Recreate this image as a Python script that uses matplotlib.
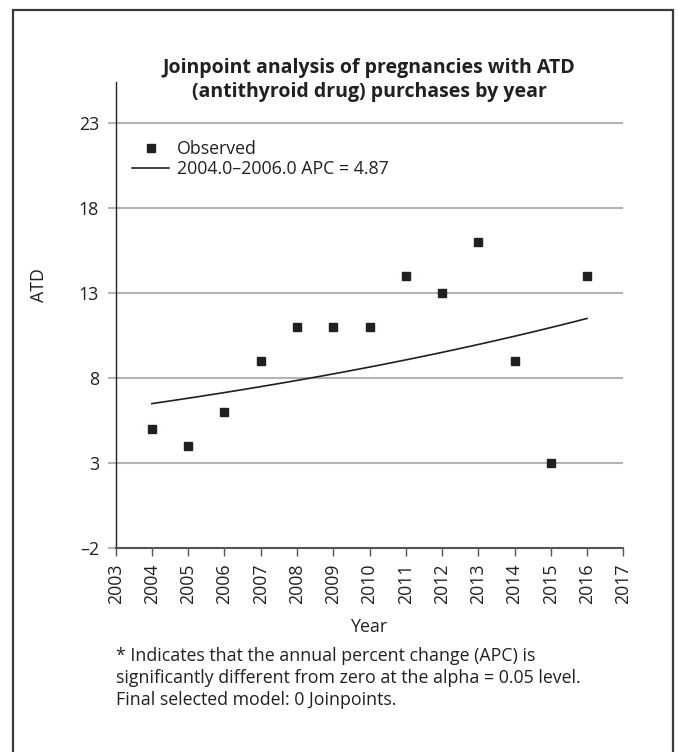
import numpy as np
import matplotlib
matplotlib.use("Agg")
import matplotlib.pyplot as plt
from matplotlib.lines import Line2D
from matplotlib.patches import Rectangle

plt.rcParams['font.family'] = ['Open Sans', 'DejaVu Sans']

# observed counts per year
years = [2004, 2005, 2006, 2007, 2008, 2009, 2010, 2011, 2012, 2013, 2014, 2015, 2016]
atd = [5, 4, 6, 9, 11, 11, 11, 14, 13, 16, 9, 3, 14]

# fitted segment: value at start year and annual percent change
seg_start, seg_end = 2004, 2016
seg_base = 6.5
apc = 4.87

x_ticks = list(range(2003, 2018))
y_ticks = [-2, 3, 8, 13, 18, 23]

title = "Joinpoint analysis of pregnancies with ATD\n(antithyroid drug) purchases by year"
footnote = ("* Indicates that the annual percent change (APC) is\n"
            "significantly different from zero at the alpha = 0.05 level.\n"
            "Final selected model: 0 Joinpoints.")

FS = 12.8
W, H = 678, 752
fig = plt.figure(figsize=(W / 100, H / 100), dpi=100)
ax = fig.add_axes([115.7 / W, 1 - 548.3 / H, (623.3 - 115.7) / W, (548.3 - 82) / H])

ink = '#231f20'
grid_c = '#b4b4b4'

# fitted curve
fx = np.linspace(seg_start, seg_end, 100)
fy = seg_base * (1 + apc / 100) ** (fx - seg_start)

for v in y_ticks[1:]:
    ax.axhline(v, color=grid_c, lw=1.5, zorder=1)

ax.plot(fx, fy, color=ink, lw=1.2, zorder=3)
ax.plot(years, atd, 's', color=ink, ms=5.8, zorder=4, clip_on=False)

ax.set_xlim(2003, 2017)
ax.set_ylim(-2, 25.39)
ax.set_xticks(x_ticks)
ax.set_xticklabels([str(x) for x in x_ticks], rotation=90)
ax.set_yticks(y_ticks)
ax.set_yticklabels([str(v).replace('-', '\u2013') for v in y_ticks])

for s in ['top', 'right']:
    ax.spines[s].set_visible(False)
ax.spines['left'].set_color(ink)
ax.spines['bottom'].set_color('#555555')
ax.spines['left'].set_linewidth(1.0)
ax.spines['bottom'].set_linewidth(1.5)

ax.tick_params(axis='y', length=6, width=1.5, color=grid_c, labelsize=FS, labelcolor=ink, pad=6)
ax.tick_params(axis='x', length=6, width=1.0, color='#555555', labelsize=FS, labelcolor=ink, pad=5)

ax.set_xlabel("Year", fontsize=FS, color=ink, labelpad=10)
ax.set_ylabel("ATD", fontsize=FS, color=ink)
ax.yaxis.set_label_coords((48 - 115.7) / 508, (548.3 - 285) / 466.3)

fig.text(369 / W, 1 - 80 / H, title, ha='center', va='center', fontsize=14,
         fontweight='bold', color=ink, linespacing=1.2)

handles = [Line2D([], [], marker='s', ls='none', color=ink, ms=5.8),
           Line2D([], [], color=ink, lw=1.2)]
labels = ["Observed", "2004.0\u20132006.0 APC = 4.87"]
ax.legend(handles, labels, loc='upper left', bbox_to_anchor=(132 / W, 1 - 140 / H),
          bbox_transform=fig.transFigure, frameon=False, fontsize=FS,
          handlelength=2.1, handletextpad=0.45, labelspacing=0.12,
          borderpad=0, borderaxespad=0, labelcolor=ink)

fig.text(116 / W, 1 - 647 / H, footnote, ha='left', va='top', fontsize=FS,
         color=ink, linespacing=1.27)

# outer frame, bottom edge runs off the page
fig.patches.append(Rectangle((12.5 / W, -0.05), (673 - 12.5) / W, 1.05 - 9.5 / H,
                             transform=fig.transFigure, fill=False,
                             edgecolor='#3a3a3a', lw=1.6))

fig.savefig("out.png", dpi=100)
